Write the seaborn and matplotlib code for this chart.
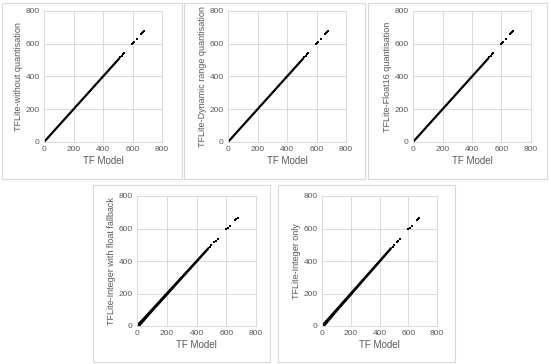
import matplotlib
matplotlib.use("Agg")
import matplotlib.pyplot as plt
from matplotlib.patches import Rectangle
import seaborn as sns

# values
ticks = [0, 200, 400, 600, 800]
x_label = "TF Model"
y_labels = [
    "TFLite-without quantisation",
    "TFLite-Dynamic range quantisation",
    "TFLite-Float16 quantisation",
    "TFLite-Integer with float fallback",
    "TFLite-Integer only",
]

# float models: a dense diagonal up to ~510, then a few scattered points
dense_x = [0, 510]
dense_y = [0, 510]
tail_x = [518, 527, 535, 542, 598, 605, 612, 628, 660, 665, 672, 678]
tail_y = [518, 527, 535, 542, 598, 605, 612, 628, 660, 665, 672, 678]

# integer models: a wider band that narrows with size
band_x = [5, 100, 200, 300, 400, 480]
band_lo = [-12, 88, 189, 291, 392, 474]
band_hi = [22, 113, 212, 310, 408, 486]
int_tail_x = [492, 500, 520, 530, 542, 600, 610, 628, 660, 668, 676]
int_tail_y = [488, 496, 514, 524, 535, 597, 604, 618, 652, 658, 664]

sns.set_theme(style="whitegrid")
plt.rcParams["font.family"] = ["Liberation Sans", "DejaVu Sans"]

fig = plt.figure(figsize=(5.5, 3.64), dpi=100)

# axes rectangles in pixels: left, right, top, bottom
axes_px = [
    (44, 162, 11, 142),
    (228, 346, 11, 142),
    (413, 531, 11, 142),
    (137, 256, 196, 326),
    (322, 437, 196, 326),
]
# panel border boxes in pixels: left, right, top, bottom
boxes_px = [
    (2, 182, 3, 179),
    (184, 365, 3, 179),
    (368, 547, 3, 179),
    (93, 270, 185, 362),
    (278, 455, 185, 362),
]

W, H = 550, 364
grey = "#d9d9d9"
txt = "#595959"

for (l, r, t, b) in boxes_px:
    fig.patches.append(Rectangle((l / W, 1 - b / H), (r - l) / W, (b - t) / H,
                                 transform=fig.transFigure, fill=False,
                                 edgecolor=grey, linewidth=0.8))

for i, (l, r, t, b) in enumerate(axes_px):
    ax = fig.add_axes([l / W, 1 - b / H, (r - l) / W, (b - t) / H])
    if i < 3:
        sns.lineplot(x=dense_x, y=dense_y, ax=ax, color="black", linewidth=1.6)
        sns.scatterplot(x=tail_x, y=tail_y, ax=ax, color="black", s=3.5,
                        linewidth=0, marker="s")
    else:
        ax.fill_between(band_x, band_lo, band_hi, color="black", linewidth=0)
        sns.lineplot(x=band_x, y=[(a + c) / 2 for a, c in zip(band_lo, band_hi)],
                     ax=ax, color="black", linewidth=1.4)
        sns.scatterplot(x=int_tail_x, y=int_tail_y, ax=ax, color="black", s=3.5,
                        linewidth=0, marker="s")
    ax.set_xlim(0, 800)
    ax.set_ylim(0, 800)
    ax.set_xticks(ticks)
    ax.set_yticks(ticks)
    ax.grid(True, color=grey, linewidth=0.7)
    for sp in ax.spines.values():
        sp.set_color(grey)
        sp.set_linewidth(0.7)
    ax.tick_params(axis="both", labelsize=6, colors=txt, length=0, pad=3)
    ax.set_xlabel(x_label, fontsize=7, color=txt, labelpad=2)
    ax.set_ylabel(y_labels[i], fontsize=6.5, color=txt, labelpad=2)

fig.savefig("out.png", dpi=100)
